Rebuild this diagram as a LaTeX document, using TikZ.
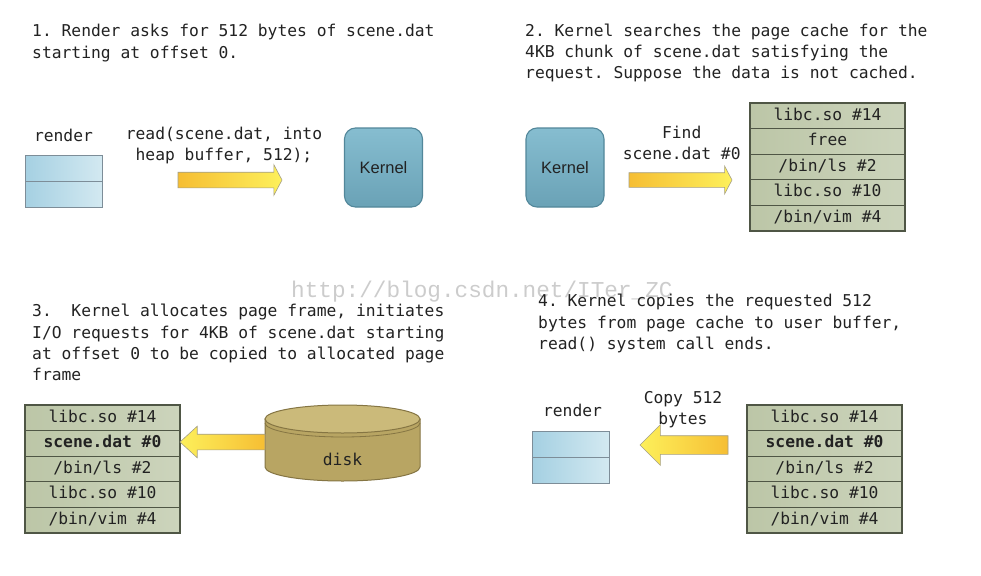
\documentclass[tikz,border=0pt]{standalone}
\usepackage{fontspec}
\setmainfont{Liberation Sans}
\setmonofont{DejaVu Sans Mono}
\newfontfamily\wmfont{Liberation Mono}
\usetikzlibrary{shapes.arrows}
\usetikzlibrary{positioning}
\definecolor{bufl}{HTML}{A5D0E2}
\definecolor{bufr}{HTML}{D3E9F1}
\definecolor{bufline}{HTML}{7D8D98}
\definecolor{kernt}{HTML}{86BDD0}
\definecolor{kernb}{HTML}{6AA2B6}
\definecolor{kernline}{HTML}{52879A}
\definecolor{slotl}{HTML}{BCC6A7}
\definecolor{slotr}{HTML}{CCD4BC}
\definecolor{slotline}{HTML}{4F5645}
\definecolor{diskside}{HTML}{B8A563}
\definecolor{diskmid}{HTML}{D8CA90}
\definecolor{disktop}{HTML}{CBBA7A}
\definecolor{diskline}{HTML}{857543}
\definecolor{tailorange}{HTML}{F6BE33}
\definecolor{tipyellow}{HTML}{FDF05B}
\definecolor{fatline}{HTML}{A49F86}
\definecolor{ink}{HTML}{222222}
\tikzstyle{note}=[anchor=north west,align=left,inner sep=0,text=ink,
                 font=\fontsize{16.3}{21.2}\selectfont\ttfamily]
\tikzstyle{lbl}=[inner sep=0,align=center,text=ink,
                font=\fontsize{16.3}{21.5}\selectfont\ttfamily]
\tikzstyle{wm}=[inner sep=0,text=black!20,font=\fontsize{22.7}{24}\selectfont\wmfont]
\tikzstyle{slot}=[draw=slotline,line width=1.1pt,left color=slotl,right color=slotr,
                 minimum width=155pt,minimum height=25.6pt,inner sep=0,outer sep=0,
                 text height=12pt,text depth=3.3pt,text=ink,
                 font=\fontsize{16.3}{20}\selectfont\ttfamily]
\tikzstyle{buf}=[draw=bufline,line width=1pt,left color=bufl,right color=bufr,
                minimum width=77pt,minimum height=26pt,inner sep=0,outer sep=0]
\tikzstyle{kern}=[draw=kernline,line width=1.1pt,rounded corners=11pt,top color=kernt,
                 bottom color=kernb,minimum width=78pt,minimum height=79pt,text=ink,
                 font=\fontsize{16.5}{20}\selectfont]
\tikzstyle{fat}=[single arrow,draw=fatline,line width=0.6pt,inner xsep=0,inner ysep=7.5pt,
                outer sep=0,text height=0pt,text depth=0pt,
                single arrow head extend=7.5pt,single arrow tip angle=124]
\tikzstyle{fatr}=[fat,left color=tailorange,right color=tipyellow]
\tikzstyle{fatl}=[fat,shape border rotate=180,left color=tipyellow,right color=tailorange]
\frenchspacing

\begin{document}
\begin{tikzpicture}[x=1pt,y=-1pt]
\fill[white] (0,0) rectangle (981,575);
\node[wm,anchor=base west] (wm) at (291,297) {http://blog.csdn.net/ITer\_ZC};

\node[note] (n1) at (32,24.3) {1. Render asks for 512 bytes of scene.dat\\starting at offset 0.};
\node[note] (n2) at (525,23.6) {2. Kernel searches the page cache for the\\4KB chunk of scene.dat satisfying the\\request. Suppose the data is not cached.};
\node[note] (n3) at (32,304.3) {3.\ \ Kernel allocates page frame, initiates\\I/O requests for 4KB of scene.dat starting\\at offset 0 to be copied to allocated page\\frame};
\node[note] (n4) at (538,294.3) {4. Kernel copies the requested 512\\bytes from page cache to user buffer,\\read() system call ends.};

\node[lbl,anchor=base] (rl1) at (63.5,141.7) {render};
\node[buf] (rb1) at (63.5,168) {};
\node[buf,below=0pt of rb1] (rb2) {};
\node[lbl,anchor=north] (rd) at (224,126.6) {read(scene.dat, into\\heap buffer, 512);};
\node[fatr,anchor=tail,minimum height=104pt] (mv1) at (178,180) {};
\node[kern] (kn1) at (383.5,167.5) {Kernel};

\node[kern] (kn2) at (565,167.5) {Kernel};
\node[lbl,anchor=north] (fd) at (681.7,125.6) {Find\\scene.dat \#0};
\node[fatr,anchor=tail,minimum height=103pt,inner ysep=7pt,single arrow head extend=6.5pt] (mv2) at (629,180) {};
\node[slot] (pa1) at (827.5,115.8) {libc.so \#14};
\node[slot,below=0pt of pa1] (pa2) {free};
\node[slot,below=0pt of pa2] (pa3) {/bin/ls \#2};
\node[slot,below=0pt of pa3] (pa4) {libc.so \#10};
\node[slot,below=0pt of pa4] (pa5) {/bin/vim \#4};

\node[slot] (pb1) at (102.5,417.8) {libc.so \#14};
\node[slot,below=0pt of pb1] (pb2) {\textbf{scene.dat \#0}};
\node[slot,below=0pt of pb2] (pb3) {/bin/ls \#2};
\node[slot,below=0pt of pb3] (pb4) {libc.so \#10};
\node[slot,below=0pt of pb4] (pb5) {/bin/vim \#4};
\coordinate (dk) at (342.5,419);
\path[draw=diskline,line width=1pt,left color=diskside,middle color=diskmid,right color=diskside]
  (265,419) -- (265,467) arc[start angle=180,end angle=360,x radius=77.5pt,y radius=14pt]
  -- (420,419) -- cycle;
\draw[diskline,line width=1pt,fill=disktop] (dk) ellipse[x radius=77.5pt,y radius=14pt];
\draw[diskline,line width=0.8pt] (265,423) arc[start angle=180,end angle=360,x radius=77.5pt,y radius=14pt];
\node[lbl,anchor=base] (dsk) at (342.5,465) {disk};
\node[fatl,anchor=tail,minimum height=85pt,single arrow tip angle=85,
      single arrow head extend=8pt] (mv3) at (265,442) {};

\node[lbl,anchor=base] (rl2) at (572.5,416.7) {render};
\node[buf] (rc1) at (571,444) {};
\node[buf,below=0pt of rc1] (rc2) {};
\node[lbl,anchor=north] (cp) at (683,391) {Copy 512\\bytes};
\node[fatl,anchor=tail,minimum height=88pt,inner ysep=9pt,single arrow tip angle=90,
      single arrow head extend=11pt] (mv4) at (728,445) {};
\node[slot] (pc1) at (824.5,417.8) {libc.so \#14};
\node[slot,below=0pt of pc1] (pc2) {\textbf{scene.dat \#0}};
\node[slot,below=0pt of pc2] (pc3) {/bin/ls \#2};
\node[slot,below=0pt of pc3] (pc4) {libc.so \#10};
\node[slot,below=0pt of pc4] (pc5) {/bin/vim \#4};
\end{tikzpicture}
\end{document}
